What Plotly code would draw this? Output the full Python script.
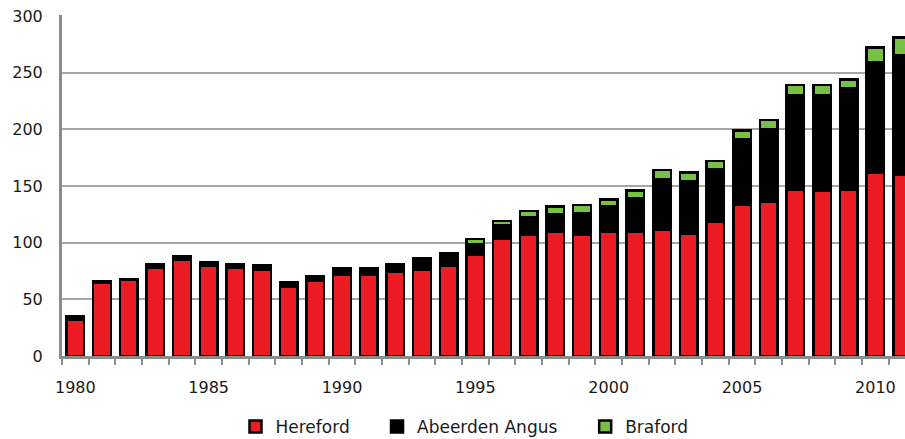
import plotly.graph_objects as go

years = list(range(1980, 2012))
hereford = [32, 65, 67, 78, 85, 80, 78, 76, 61, 66, 72, 72, 74, 76, 80,
            89, 103, 107, 110, 107, 110, 110, 111, 108, 118, 133, 136, 147,
            146, 147, 162, 160]
angus = [3, 1, 1, 3, 3, 3, 3, 4, 4, 4, 5, 5, 7, 10, 11,
         10, 12, 15, 15, 19, 22, 29, 45, 46, 47, 58, 64, 83,
         84, 89, 97, 105]
braford = [None] * 15 + [4, 4, 6, 7, 7, 6, 7, 8, 8, 7, 8, 8, 9,
                         9, 8, 13, 16]
series_names = ["Hereford", "Abeerden Angus", "Braford"]
series_colors = ["#ed1c24", "#000000", "#77c043"]
x_tick_years = [1980, 1985, 1990, 1995, 2000, 2005, 2010]
y_ticks = [0, 50, 100, 150, 200, 250, 300]

FONT = "DejaVu Sans"
TXT = "#1a1a1a"
AX = "#8c8c8c"

fig = go.Figure()
legend_ids = ["legend", "legend2", "legend3"]
for vals, name, col, lg in zip([hereford, angus, braford], series_names,
                               series_colors, legend_ids):
    fig.add_trace(go.Bar(
        x=years, y=vals, name=name, legend=lg, showlegend=True,
        marker=dict(color=col, line=dict(color="#000000", width=2.5)),
        width=0.66,
    ))

leg_common = dict(orientation="h", yanchor="middle", y=-0.208, xanchor="left",
                  bgcolor="rgba(0,0,0,0)", font=dict(family=FONT, size=17, color=TXT))
fig.update_layout(
    width=905, height=439,
    margin=dict(l=62, r=0, t=15, b=83, autoexpand=False),
    barmode="stack",
    showlegend=True,
    plot_bgcolor="white", paper_bgcolor="white",
    font=dict(family=FONT, size=16, color=TXT),
    legend=dict(x=0.2058, **leg_common),
    legend2=dict(x=0.3737, **leg_common),
    legend3=dict(x=0.6206, **leg_common),
    xaxis=dict(
        range=[1979.5, 2011.11],
        tickmode="array", tickvals=x_tick_years,
        ticktext=[str(y) for y in x_tick_years],
        showgrid=False, zeroline=False,
        showline=True, linecolor=AX, linewidth=2.5,
        ticks="", ticklabelstandoff=15,
        tickfont=dict(family=FONT, size=16, color=TXT),
        minor=dict(ticks="outside", ticklen=6, tickwidth=2, tickcolor=AX,
                   tickmode="linear", tick0=1979.5, dtick=1, showgrid=False),
    ),
    yaxis=dict(
        range=[0, 300.8],
        tickmode="array", tickvals=y_ticks,
        showgrid=True, gridcolor="#a6a6a6", gridwidth=2,
        zeroline=False,
        showline=True, linecolor=AX, linewidth=3,
        ticks="", ticklabelstandoff=13,
        tickfont=dict(family=FONT, size=16, color=TXT),
    ),
)

fig.write_html("out.html", config={"displayModeBar": False},
               post_script="document.body.style.margin='0px';")
